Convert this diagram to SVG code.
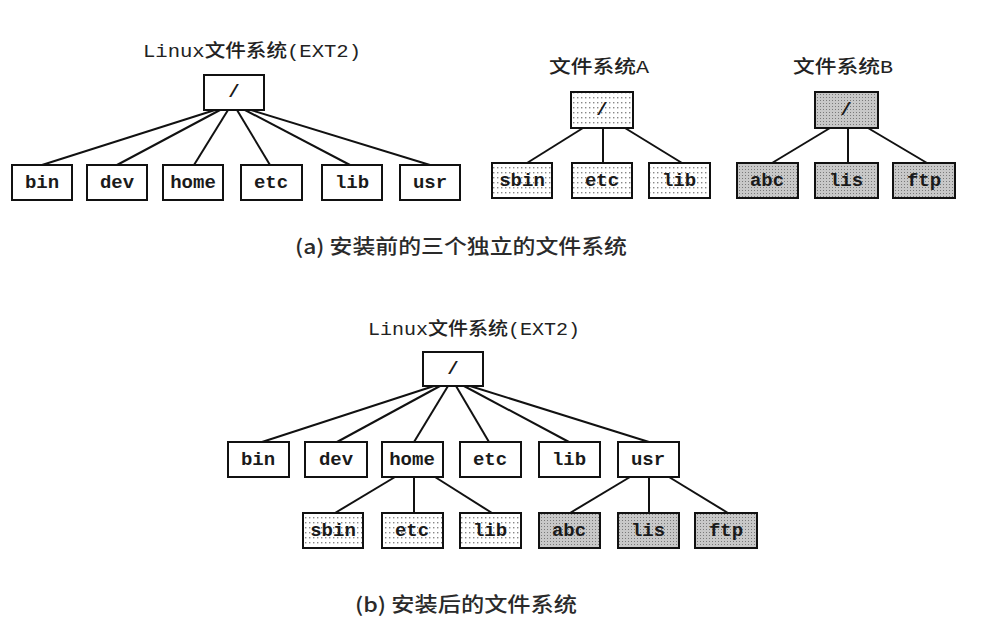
<svg xmlns="http://www.w3.org/2000/svg" width="982" height="624" viewBox="0 0 982 624">
<style>
.box{fill:#fff;stroke:#111;stroke-width:2}
.boxA{fill:url(#dotA);stroke:#111;stroke-width:2}
.boxB{fill:url(#dotB);stroke:#111;stroke-width:2}
.lbl{font-family:"Liberation Mono","Noto Sans CJK SC",monospace;font-size:19px;font-weight:bold;fill:#1a1a1a;text-anchor:middle;dominant-baseline:central}
.ttl{font-family:"Liberation Mono","Noto Sans CJK SC",monospace;font-size:18px;font-weight:500;fill:#222;text-anchor:middle;dominant-baseline:central}
.cap{font-family:"Noto Sans CJK SC",sans-serif;font-size:20px;font-weight:500;fill:#2a2a2a;dominant-baseline:central}
.ln{stroke:#111;stroke-width:2;fill:none}
</style>
<defs>
<pattern id="dotA" width="4" height="5" patternUnits="userSpaceOnUse"><rect width="4" height="5" fill="#fff"/><rect x="1" y="2" width="1.4" height="1.4" fill="#888"/></pattern>
<pattern id="dotB" width="3" height="3" patternUnits="userSpaceOnUse"><rect width="3" height="3" fill="#c8c8c8"/><rect x="1" y="1" width="1" height="1" fill="#7a7a7a"/></pattern>
</defs>
<rect width="982" height="624" fill="#fff"/>

<g id="connectors">
<line class="ln" x1="215" y1="110" x2="42" y2="165"/>
<line class="ln" x1="220" y1="110" x2="117" y2="165"/>
<line class="ln" x1="228" y1="110" x2="194" y2="165"/>
<line class="ln" x1="237" y1="110" x2="270" y2="165"/>
<line class="ln" x1="245" y1="110" x2="350" y2="165"/>
<line class="ln" x1="251" y1="110" x2="430" y2="165"/>
<line class="ln" x1="583" y1="128" x2="527" y2="163"/>
<line class="ln" x1="603" y1="128" x2="603" y2="163"/>
<line class="ln" x1="625" y1="128" x2="682" y2="163"/>
<line class="ln" x1="830" y1="128" x2="772" y2="163"/>
<line class="ln" x1="848" y1="128" x2="848" y2="163"/>
<line class="ln" x1="868" y1="128" x2="927" y2="163"/>
<line class="ln" x1="434" y1="386" x2="262" y2="442"/>
<line class="ln" x1="440" y1="386" x2="337" y2="442"/>
<line class="ln" x1="448" y1="386" x2="414" y2="442"/>
<line class="ln" x1="456" y1="386" x2="489" y2="442"/>
<line class="ln" x1="464" y1="386" x2="569" y2="442"/>
<line class="ln" x1="470" y1="386" x2="649" y2="442"/>
<line class="ln" x1="395" y1="477" x2="335" y2="513"/>
<line class="ln" x1="414" y1="477" x2="414" y2="513"/>
<line class="ln" x1="435" y1="477" x2="492" y2="513"/>
<line class="ln" x1="630" y1="477" x2="570" y2="513"/>
<line class="ln" x1="649" y1="477" x2="649" y2="513"/>
<line class="ln" x1="669" y1="477" x2="728" y2="513"/>
</g>

<g id="title-a-linux"><text class="ttl" x="252" y="52" textLength="218" lengthAdjust="spacingAndGlyphs">Linux文件系统(EXT2)</text></g>
<g id="title-a-A"><text class="ttl" x="599" y="68" font-size="20" textLength="100" lengthAdjust="spacingAndGlyphs">文件系统A</text></g>
<g id="title-a-B"><text class="ttl" x="843" y="68" font-size="20" textLength="100" lengthAdjust="spacingAndGlyphs">文件系统B</text></g>

<g id="a-root"><rect class="box" x="204" y="75" width="60" height="35"/><text class="lbl" x="234" y="92">/</text></g>
<g id="a-bin"><rect class="box" x="12" y="165" width="60" height="35"/><text class="lbl" x="42" y="183">bin</text></g>
<g id="a-dev"><rect class="box" x="87" y="165" width="60" height="35"/><text class="lbl" x="117" y="183">dev</text></g>
<g id="a-home"><rect class="box" x="163" y="165" width="60" height="35"/><text class="lbl" x="193" y="183">home</text></g>
<g id="a-etc"><rect class="box" x="241" y="165" width="61" height="35"/><text class="lbl" x="271" y="183">etc</text></g>
<g id="a-lib"><rect class="box" x="322" y="165" width="60" height="35"/><text class="lbl" x="352" y="183">lib</text></g>
<g id="a-usr"><rect class="box" x="400" y="165" width="60" height="35"/><text class="lbl" x="430" y="183">usr</text></g>

<g id="A-root"><rect class="boxA" x="571" y="92" width="62" height="36"/><text class="lbl" x="602" y="110">/</text></g>
<g id="A-sbin"><rect class="boxA" x="492" y="163" width="60" height="35"/><text class="lbl" x="522" y="181">sbin</text></g>
<g id="A-etc"><rect class="boxA" x="572" y="163" width="60" height="35"/><text class="lbl" x="602" y="181">etc</text></g>
<g id="A-lib"><rect class="boxA" x="649" y="163" width="61" height="35"/><text class="lbl" x="679" y="181">lib</text></g>

<g id="B-root"><rect class="boxB" x="815" y="92" width="63" height="36"/><text class="lbl" x="846" y="110">/</text></g>
<g id="B-abc"><rect class="boxB" x="737" y="163" width="61" height="35"/><text class="lbl" x="767" y="181">abc</text></g>
<g id="B-lis"><rect class="boxB" x="815" y="163" width="63" height="35"/><text class="lbl" x="846" y="181">lis</text></g>
<g id="B-ftp"><rect class="boxB" x="893" y="163" width="62" height="35"/><text class="lbl" x="924" y="181">ftp</text></g>

<g id="caption-a"><text class="cap" x="295" y="245" textLength="332" lengthAdjust="spacingAndGlyphs">(a) 安装前的三个独立的文件系统</text></g>

<g id="title-b-linux"><text class="ttl" x="474" y="330" textLength="212" lengthAdjust="spacingAndGlyphs">Linux文件系统(EXT2)</text></g>
<g id="b-root"><rect class="box" x="423" y="352" width="60" height="34"/><text class="lbl" x="453" y="369">/</text></g>
<g id="b-bin"><rect class="box" x="228" y="442" width="61" height="35"/><text class="lbl" x="258" y="460">bin</text></g>
<g id="b-dev"><rect class="box" x="305" y="442" width="62" height="35"/><text class="lbl" x="336" y="460">dev</text></g>
<g id="b-home"><rect class="box" x="382" y="442" width="61" height="35"/><text class="lbl" x="412" y="460">home</text></g>
<g id="b-etc"><rect class="box" x="460" y="442" width="61" height="35"/><text class="lbl" x="490" y="460">etc</text></g>
<g id="b-lib"><rect class="box" x="539" y="442" width="61" height="35"/><text class="lbl" x="569" y="460">lib</text></g>
<g id="b-usr"><rect class="box" x="618" y="442" width="61" height="35"/><text class="lbl" x="648" y="460">usr</text></g>

<g id="b-sbin"><rect class="boxA" x="303" y="513" width="60" height="35"/><text class="lbl" x="333" y="531">sbin</text></g>
<g id="b-etc2"><rect class="boxA" x="382" y="513" width="61" height="35"/><text class="lbl" x="412" y="531">etc</text></g>
<g id="b-lib2"><rect class="boxA" x="460" y="513" width="61" height="35"/><text class="lbl" x="490" y="531">lib</text></g>
<g id="b-abc"><rect class="boxB" x="539" y="513" width="61" height="35"/><text class="lbl" x="569" y="531">abc</text></g>
<g id="b-lis"><rect class="boxB" x="618" y="513" width="61" height="35"/><text class="lbl" x="648" y="531">lis</text></g>
<g id="b-ftp"><rect class="boxB" x="695" y="513" width="62" height="35"/><text class="lbl" x="726" y="531">ftp</text></g>

<g id="caption-b"><text class="cap" x="355" y="603" textLength="222" lengthAdjust="spacingAndGlyphs">(b) 安装后的文件系统</text></g>
</svg>
